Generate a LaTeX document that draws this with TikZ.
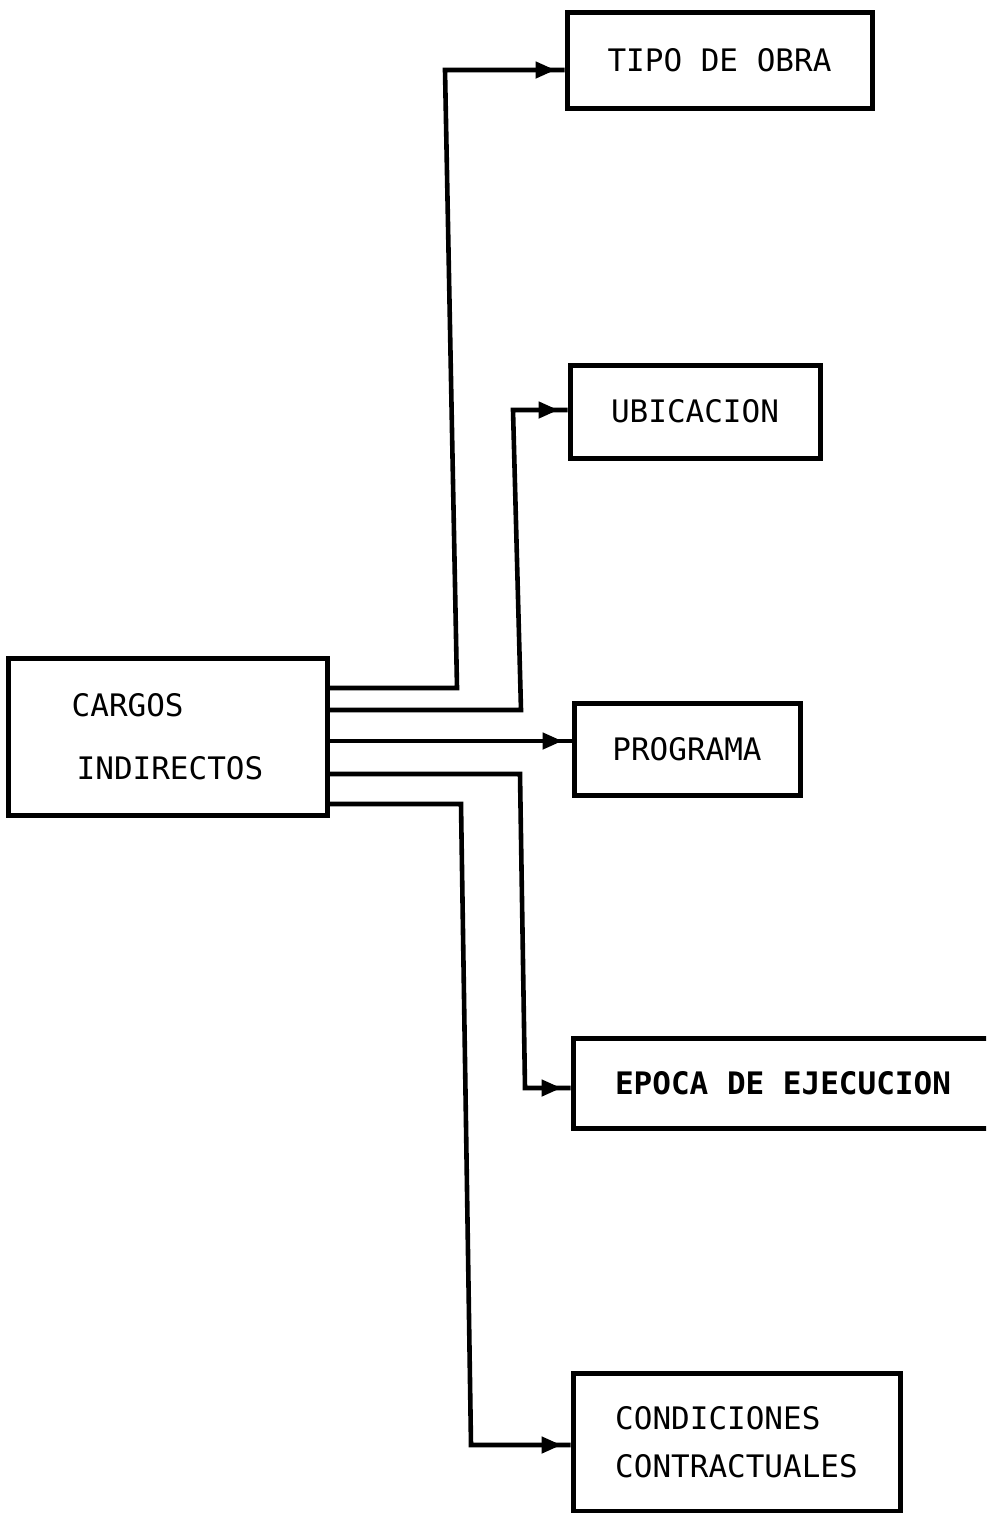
\documentclass[tikz,border=0pt]{standalone}
\usepackage{fontspec}
\newfontfamily\tw{DejaVu Sans Mono}
\usetikzlibrary{arrows.meta,decorations.markings}
\begin{document}
\begin{tikzpicture}[x=1pt,y=-1pt,
  box/.style={draw,line width=5pt,rectangle,inner sep=0pt,font=\tw\fontsize{31}{63}\selectfont,align=left},
  conn/.style={line width=4.6pt,line join=miter},
  tipconn/.style={conn,decoration={markings,mark=at position -9pt with {\arrow{Triangle[length=20pt,width=16pt]}}},postaction=decorate}]
\useasboundingbox (0,0) rectangle (986,1513);
\clip (0,0) rectangle (986,1513);
\fill[white] (0,0) rectangle (986,1513);
\node[box,minimum width=305pt,minimum height=96pt] (tipo) at (719.5,60) {TIPO DE OBRA};
\node[box,minimum width=250pt,minimum height=93pt] (ubic) at (695,411.5) {UBICACION};
\node[box,minimum width=226pt,minimum height=92pt] (prog) at (687,749) {PROGRAMA};
\node[box,minimum width=420pt,minimum height=90pt,font=\tw\bfseries\fontsize{31}{63}\selectfont] (epoca) at (783,1083) {EPOCA DE EJECUCION};
\node[box,minimum width=327pt,minimum height=138pt,font=\tw\fontsize{31}{48}\selectfont] (cond) at (736.5,1442) {CONDICIONES\\CONTRACTUALES};
\node[box,minimum width=319pt,minimum height=157pt] (cargos) at (167.5,736.5) {CARGOS\\\hspace*{5pt}INDIRECTOS};
\draw[tipconn] (cargos.east |- 0,688) -- (457,688) -- (445,70) -- (tipo.west |- 0,70);
\draw[tipconn] (cargos.east |- 0,710) -- (521,710) -- (513,410) -- (ubic.west |- 0,410);
\draw[tipconn] (cargos.east |- 0,741) -- (prog.west |- 0,741);
\draw[tipconn] (cargos.east |- 0,774) -- (520,774) -- (525,1088) -- (epoca.west |- 0,1088);
\draw[tipconn] (cargos.east |- 0,804) -- (461,804) -- (471,1445) -- (cond.west |- 0,1445);
\end{tikzpicture}
\end{document}
